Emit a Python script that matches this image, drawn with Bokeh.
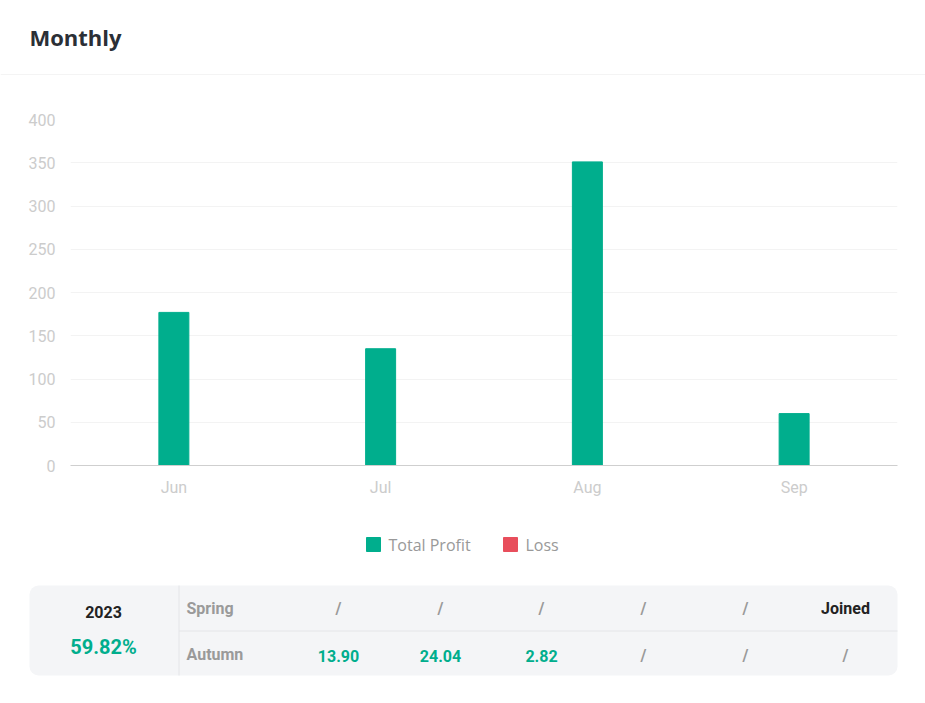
from bokeh.plotting import figure
from bokeh.layouts import column
from bokeh.models import Range1d, FactorRange, FixedTicker, BoxAnnotation, ColumnDataSource
from bokeh.core.properties import value
from bokeh.embed import file_html
from bokeh.resources import INLINE

# ---- data ----
months = ["Jun", "Jul", "Aug", "Sep"]
total_profit = [177, 135, 351, 60]
y_ticks = [0, 50, 100, 150, 200, 250, 300, 350, 400]
legend_labels = ["Total Profit", "Loss"]
year_label = "2023"
year_return = "59.82%"
season_labels = ["Spring", "Autumn"]
spring_values = ["/", "/", "/", "/", "/", "Joined"]
autumn_values = ["13.90", "24.04", "2.82", "/", "/", "/"]

GREEN = "#00ae8d"
RED = "#e84e5c"
W = 925

# ---- header ----
head = figure(width=W, height=75, x_range=Range1d(0, W), y_range=Range1d(75, 0),
              output_backend="svg", toolbar_location=None, min_border=0,
              min_border_left=0, min_border_right=0, min_border_top=0, min_border_bottom=0,
              frame_align=False)
head.axis.visible = False
head.grid.visible = False
head.outline_line_color = None
head.text(x=[29], y=[36.5], text=["Monthly"], text_font=value("Open Sans"),
          text_font_style="bold", text_font_size="22px", text_color="#2b2f36",
          text_baseline="middle", text_align="left")
head.segment(x0=[0], y0=[74.5], x1=[W], y1=[74.5], line_color="#e8e8e8", line_width=1)

# ---- chart ----
src = ColumnDataSource(dict(month=months, profit=total_profit))
p = figure(width=W, height=435, x_range=FactorRange(*months), y_range=Range1d(0, 400),
           output_backend="svg", toolbar_location=None, frame_align=False,
           min_border_left=70, min_border_right=28, min_border_top=44, min_border_bottom=45)
p.outline_line_color = None
p.vbar(x="month", top="profit", width=0.145, source=src, color=GREEN)
p.yaxis.ticker = FixedTicker(ticks=y_ticks)
p.yaxis.axis_line_color = None
p.yaxis.major_tick_line_color = None
p.yaxis.minor_tick_line_color = None
p.yaxis.major_label_text_color = "#cccccc"
p.yaxis.major_label_text_font = "Roboto"
p.yaxis.major_label_text_font_size = "16px"
p.yaxis.major_label_standoff = 9
p.xaxis.axis_line_color = "#cfcfcf"
p.xaxis.major_tick_line_color = None
p.xaxis.minor_tick_line_color = None
p.xaxis.major_label_text_color = "#cccccc"
p.xaxis.major_label_text_font = "Roboto"
p.xaxis.major_label_text_font_size = "16px"
p.xaxis.major_label_standoff = 6
p.xgrid.grid_line_color = None
p.ygrid.grid_line_color = "#f3f3f3"
p.ygrid.ticker = FixedTicker(ticks=y_ticks)

# ---- legend + table (pixel coordinates) ----
T0 = 510
t = figure(width=W, height=703 - T0, x_range=Range1d(0, W), y_range=Range1d(703, T0),
           output_backend="svg", toolbar_location=None, min_border=0,
           min_border_left=0, min_border_right=0, min_border_top=0, min_border_bottom=0,
           frame_align=False)
t.axis.visible = False
t.grid.visible = False
t.outline_line_color = None

# legend
t.rect(x=[373, 510], y=[544, 544], width=14, height=14, color=[GREEN, RED])
t.text(x=[388, 525], y=[544, 544], text=legend_labels, text_font=value("Open Sans"),
       text_font_size="16px", text_color="#999999", text_baseline="middle", text_align="left")

# table background
t.add_layout(BoxAnnotation(left=29, right=897, top=585, bottom=675, fill_color="#f4f5f7",
                           fill_alpha=1, line_color=None, border_radius=9, level="underlay"))
t.segment(x0=[178.5, 178.5], y0=[585, 630.5], x1=[178.5, 897], y1=[675, 630.5],
          line_color="#e4e5e8", line_width=1)

t.text(x=[103], y=[611], text=[year_label], text_font=value("Roboto"), text_font_style="bold",
       text_font_size="16px", text_color="#222222", text_baseline="middle", text_align="center")
t.text(x=[103], y=[646], text=[year_return], text_font=value("Roboto"), text_font_style="bold",
       text_font_size="20px", text_color=GREEN, text_baseline="middle", text_align="center")

t.text(x=[186, 186], y=[608, 654], text=season_labels, text_font=value("Roboto"),
       text_font_style="bold", text_font_size="16px", text_color="#9a9a9a",
       text_baseline="middle", text_align="left")

col_x = [338, 440, 541, 643, 745, 845]
sp_colors = ["#9a9a9a" if v == "/" else "#222222" for v in spring_values]
au_colors = ["#9a9a9a" if v == "/" else GREEN for v in autumn_values]
t.text(x=col_x, y=[608] * 6, text=spring_values, text_font=value("Roboto"),
       text_font_style="bold", text_font_size="16px", text_color=sp_colors,
       text_baseline="middle", text_align="center")
t.text(x=col_x, y=[655] * 6, text=autumn_values, text_font=value("Roboto"),
       text_font_style="bold", text_font_size="16px", text_color=au_colors,
       text_baseline="middle", text_align="center")

layout = column(head, p, t, spacing=0)
open("out.html", "w").write(file_html(layout, INLINE))
